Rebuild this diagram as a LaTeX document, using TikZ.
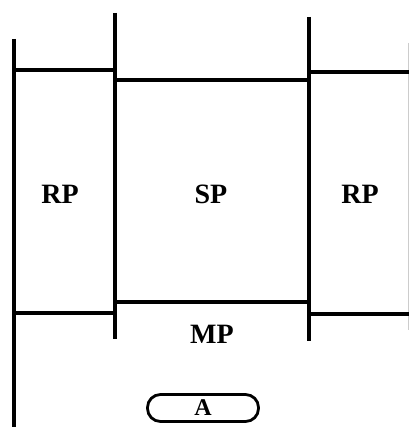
\documentclass[tikz,border=0pt]{standalone}
\usepackage{fontspec}
\setmainfont{Liberation Serif}
\usetikzlibrary{positioning}
\tikzset{
  wall/.style={line width=3.4pt},
  lbl/.style={font=\fontsize{28}{30}\selectfont\bfseries, inner sep=0pt},
  pill/.style={draw, line width=2.8pt, rounded corners=13pt, minimum width=111pt, minimum height=27pt, inner sep=0pt, font=\fontsize{24}{26}\selectfont\bfseries}
}
\begin{document}
\begin{tikzpicture}[x=1pt,y=-1pt]
      \useasboundingbox (0,0) rectangle (409,427);

      % vertical walls
      \draw[wall] (14,39) -- (14,427);
      \draw[wall] (115,13) -- (115,339);
      \draw[wall] (309,17) -- (309,341);
      \draw[gray!40, line width=0.6pt] (408,43) -- (408,330);

      % top and bottom of the regions
      \draw[wall] (14,70) -- (115,70);
      \draw[wall] (115,80) -- (309,80);
      \draw[wall] (309,72) -- (409,72);

      \draw[wall] (14,313) -- (115,313);
      \draw[wall] (115,302) -- (309,302);
      \draw[wall] (309,314) -- (409,314);

      % labels
      \node[lbl] (rpl) at (60,194) {RP};
      \node[lbl] (sp) at (211,194) {SP};
      \node[lbl] (rpr) at (360,194) {RP};
      \node[lbl] (mp) at (212,334) {MP};

      \node[pill] (a) at (203,408) {A};
\end{tikzpicture}
\end{document}
